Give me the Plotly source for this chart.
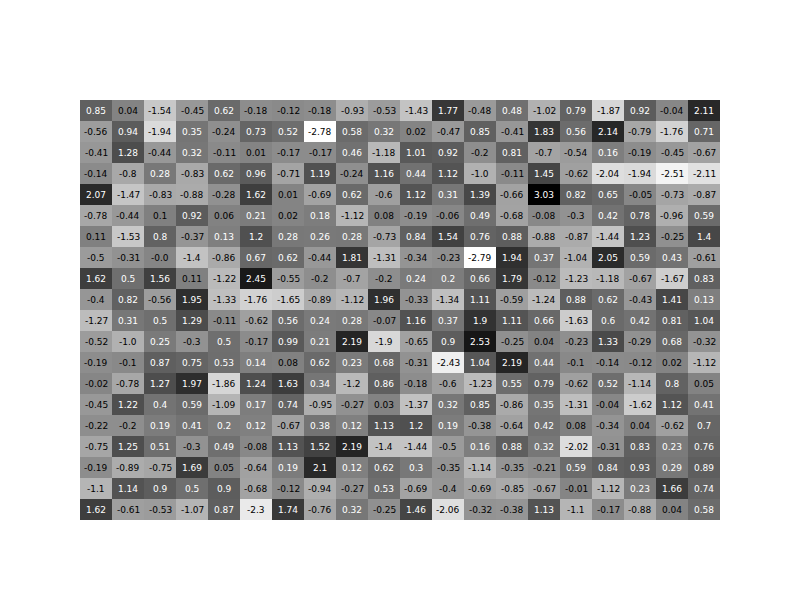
import plotly.graph_objects as go

rows = list(range(20))
cols = list(range(20))

z = [
    [0.85, 0.04, -1.54, -0.45, 0.62, -0.18, -0.12, -0.18, -0.93, -0.53, -1.43, 1.77, -0.48, 0.48, -1.02, 0.79, -1.87, 0.92, -0.04, 2.11],
    [-0.56, 0.94, -1.94, 0.35, -0.24, 0.73, 0.52, -2.78, 0.58, 0.32, 0.02, -0.47, 0.85, -0.41, 1.83, 0.56, 2.14, -0.79, -1.76, 0.71],
    [-0.41, 1.28, -0.44, 0.32, -0.11, 0.01, -0.17, -0.17, 0.46, -1.18, 1.01, 0.92, -0.2, 0.81, -0.7, -0.54, 0.16, -0.19, -0.45, -0.67],
    [-0.14, -0.8, 0.28, -0.83, 0.62, 0.96, -0.71, 1.19, -0.24, 1.16, 0.44, 1.12, -1.0, -0.11, 1.45, -0.62, -2.04, -1.94, -2.51, -2.11],
    [2.07, -1.47, -0.83, -0.88, -0.28, 1.62, 0.01, -0.69, 0.62, -0.6, 1.12, 0.31, 1.39, -0.66, 3.03, 0.82, 0.65, -0.05, -0.73, -0.87],
    [-0.78, -0.44, 0.1, 0.92, 0.06, 0.21, 0.02, 0.18, -1.12, 0.08, -0.19, -0.06, 0.49, -0.68, -0.08, -0.3, 0.42, 0.78, -0.96, 0.59],
    [0.11, -1.53, 0.8, -0.37, 0.13, 1.2, 0.28, 0.26, 0.28, -0.73, 0.84, 1.54, 0.76, 0.88, -0.88, -0.87, -1.44, 1.23, -0.25, 1.4],
    [-0.5, -0.31, -0.0, -1.4, -0.86, 0.67, 0.62, -0.44, 1.81, -1.31, -0.34, -0.23, -2.79, 1.94, 0.37, -1.04, 2.05, 0.59, 0.43, -0.61],
    [1.62, 0.5, 1.56, 0.11, -1.22, 2.45, -0.55, -0.2, -0.7, -0.2, 0.24, 0.2, 0.66, 1.79, -0.12, -1.23, -1.18, -0.67, -1.67, 0.83],
    [-0.4, 0.82, -0.56, 1.95, -1.33, -1.76, -1.65, -0.89, -1.12, 1.96, -0.33, -1.34, 1.11, -0.59, -1.24, 0.88, 0.62, -0.43, 1.41, 0.13],
    [-1.27, 0.31, 0.5, 1.29, -0.11, -0.62, 0.56, 0.24, 0.28, -0.07, 1.16, 0.37, 1.9, 1.11, 0.66, -1.63, 0.6, 0.42, 0.81, 1.04],
    [-0.52, -1.0, 0.25, -0.3, 0.5, -0.17, 0.99, 0.21, 2.19, -1.9, -0.65, 0.9, 2.53, -0.25, 0.04, -0.23, 1.33, -0.29, 0.68, -0.32],
    [-0.19, -0.1, 0.87, 0.75, 0.53, 0.14, 0.08, 0.62, 0.23, 0.68, -0.31, -2.43, 1.04, 2.19, 0.44, -0.1, -0.14, -0.12, 0.02, -1.12],
    [-0.02, -0.78, 1.27, 1.97, -1.86, 1.24, 1.63, 0.34, -1.2, 0.86, -0.18, -0.6, -1.23, 0.55, 0.79, -0.62, 0.52, -1.14, 0.8, 0.05],
    [-0.45, 1.22, 0.4, 0.59, -1.09, 0.17, 0.74, -0.95, -0.27, 0.03, -1.37, 0.32, 0.85, -0.86, 0.35, -1.31, -0.04, -1.62, 1.12, 0.41],
    [-0.22, -0.2, 0.19, 0.41, 0.2, 0.12, -0.67, 0.38, 0.12, 1.13, 1.2, 0.19, -0.38, -0.64, 0.42, 0.08, -0.34, 0.04, -0.62, 0.7],
    [-0.75, 1.25, 0.51, -0.3, 0.49, -0.08, 1.13, 1.52, 2.19, -1.4, -1.44, -0.5, 0.16, 0.88, 0.32, -2.02, -0.31, 0.83, 0.23, 0.76],
    [-0.19, -0.89, -0.75, 1.69, 0.05, -0.64, 0.19, 2.1, 0.12, 0.62, 0.3, -0.35, -1.14, -0.35, -0.21, 0.59, 0.84, 0.93, 0.29, 0.89],
    [-1.1, 1.14, 0.9, 0.5, 0.9, -0.68, -0.12, -0.94, -0.27, 0.53, -0.69, -0.4, -0.69, -0.85, -0.67, -0.01, -1.12, 0.23, 1.66, 0.74],
    [1.62, -0.61, -0.53, -1.07, 0.87, -2.3, 1.74, -0.76, 0.32, -0.25, 1.46, -2.06, -0.32, -0.38, 1.13, -1.1, -0.17, -0.88, 0.04, 0.58],
]

flat = [v for r in z for v in r]
zmin, zmax = min(flat), max(flat)
zmid = (zmin + zmax) / 2

fig = go.Figure(go.Heatmap(
    z=z, x=cols, y=rows,
    colorscale=[[0, "rgb(255,255,255)"], [1, "rgb(0,0,0)"]],
    showscale=False, hoverinfo="z",
))

annotations = []
for i, r in enumerate(z):
    for j, v in enumerate(r):
        annotations.append(dict(
            x=cols[j], y=rows[i], text=str(v), showarrow=False,
            xref="x", yref="y",
            font=dict(size=9, family="DejaVu Sans",
                      color="#000000" if v < zmid else "#FFFFFF"),
        ))

fig.update_layout(
    width=800, height=600,
    annotations=annotations,
    plot_bgcolor="white", paper_bgcolor="white",
    xaxis=dict(showticklabels=False, showgrid=False, zeroline=False, ticks=""),
    yaxis=dict(showticklabels=False, showgrid=False, zeroline=False, ticks="", autorange="reversed"),
)

fig.write_html("out.html")
